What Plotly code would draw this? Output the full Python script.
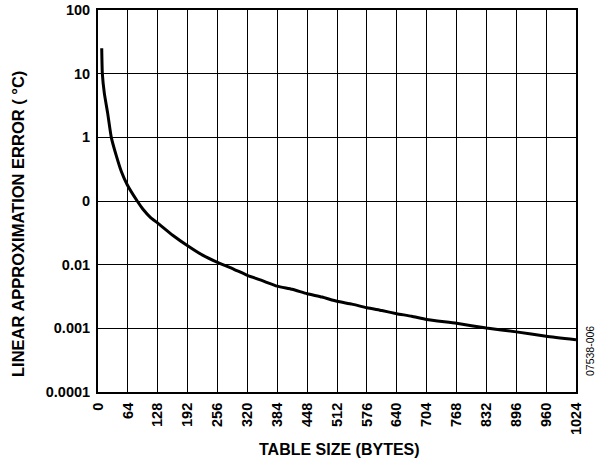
import plotly.graph_objects as go

# Data
table_size = [8, 9.3, 13.6, 20.7, 28.5, 39, 50, 62.6, 84, 96, 112.7, 128, 160, 192, 224,
              256, 288, 320, 352, 384, 416, 448, 480, 512, 544, 576, 608, 640, 672, 704,
              768, 832, 896, 960, 1024]
approx_error = [25, 10, 4.9, 2.4, 1.0, 0.52, 0.29, 0.18, 0.1, 0.075, 0.055, 0.045, 0.029,
                0.0198, 0.0141, 0.0109, 0.0087, 0.0068, 0.0056, 0.0046, 0.0041, 0.0035,
                0.0031, 0.00266, 0.0024, 0.0021, 0.0019, 0.0017, 0.00155, 0.00138, 0.0012,
                0.00101, 0.00088, 0.00075, 0.00066]

x_ticks = list(range(0, 1025, 64))
x_tick_labels = [str(v) for v in x_ticks]
y_ticks = [0.0001, 0.001, 0.01, 0.1, 1, 10, 100]
y_tick_labels = ["0.0001", "0.001", "0.01", "0", "1", "10", "100"]

W, H = 601, 461
L, R, T, B = 98, 25, 10, 69
pw, ph = W - L - R, H - T - B

def px_x(p):
    return (p - L) / pw

def px_y(p):
    return (H - B - p) / ph

font_family = "Liberation Sans, Arial, sans-serif"

fig = go.Figure()
fig.add_trace(go.Scatter(
    x=table_size, y=approx_error, mode="lines",
    line=dict(color="black", width=3, shape="spline", smoothing=0.5),
    showlegend=False, hoverinfo="skip",
))

fig.update_layout(
    width=W, height=H,
    margin=dict(l=L, r=R, t=T, b=B, autoexpand=False),
    paper_bgcolor="white", plot_bgcolor="white",
    font=dict(family=font_family, color="black"),
    xaxis=dict(
        range=[0, 1024], tickvals=x_ticks, ticktext=x_tick_labels, tickangle=-90,
        showgrid=True, gridcolor="black", gridwidth=1,
        showline=True, linecolor="black", linewidth=2, mirror=True,
        ticks="", zeroline=False, automargin=False, ticklabeloverflow="allow",
        ticklabelstandoff=3,
        tickfont=dict(family=font_family, size=14.5, color="black", weight="bold"),
        fixedrange=True,
    ),
    yaxis=dict(
        type="log", range=[-4, 2], tickvals=y_ticks, ticktext=y_tick_labels,
        showgrid=True, gridcolor="black", gridwidth=1,
        showline=True, linecolor="black", linewidth=2, mirror=True,
        ticks="", zeroline=False, automargin=False, ticklabeloverflow="allow",
        ticklabelstandoff=3,
        tickfont=dict(family=font_family, size=14.5, color="black", weight="bold"),
        fixedrange=True,
    ),
    annotations=[
        dict(text="LINEAR APPROXIMATION ERROR ( °C)", xref="paper", yref="paper",
             x=px_x(18), y=px_y(224), xanchor="center", yanchor="middle",
             textangle=-90, showarrow=False,
             font=dict(family=font_family, size=16.5, color="black", weight="bold")),
        dict(text="TABLE SIZE (BYTES)", xref="paper", yref="paper",
             x=px_x(339), y=px_y(449), xanchor="center", yanchor="middle",
             showarrow=False,
             font=dict(family=font_family, size=16, color="black", weight="bold")),
        dict(text="07538-006", xref="paper", yref="paper",
             x=px_x(590), y=px_y(351), xanchor="center", yanchor="middle",
             textangle=-90, showarrow=False,
             font=dict(family=font_family, size=10.5, color="black")),
    ],
)

# Remove the default page margin so the figure fills the 601x461 window exactly.
fig.write_html("out.html", config={"displayModeBar": False},
               post_script="document.body.style.margin='0';")
